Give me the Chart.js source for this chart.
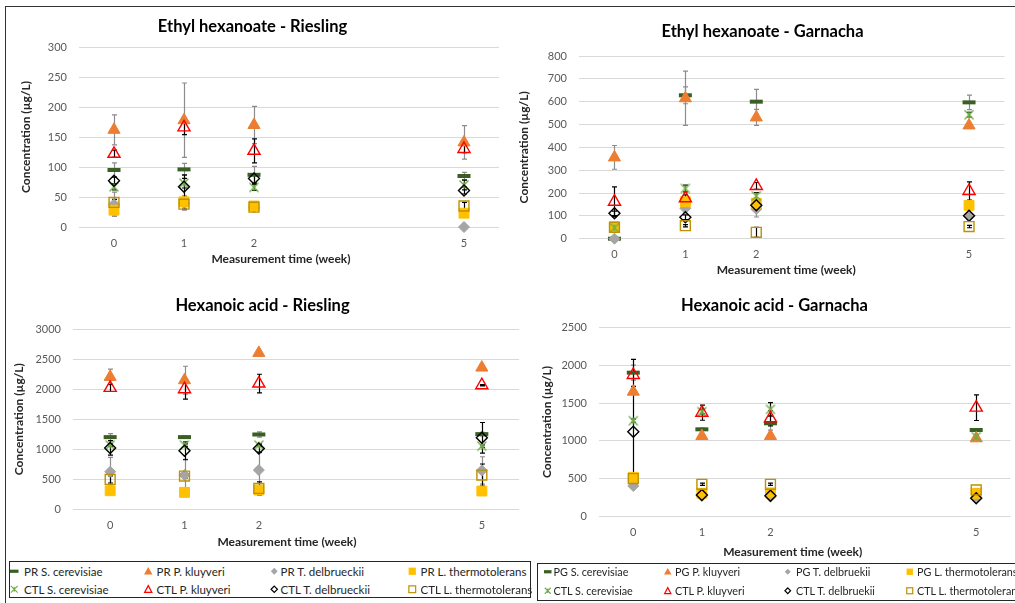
<!DOCTYPE html>
<html lang="en">
<head>
<meta charset="utf-8">
<title>Ethyl hexanoate and hexanoic acid during storage</title>
<script src="https://cdn.jsdelivr.net/npm/chart.js@4.4.1/dist/chart.umd.min.js"></script>
<style>
  html, body { margin: 0; padding: 0; background: #fff; }
  body { width: 1015px; height: 603px; overflow: hidden; position: relative; font-family: Lato, "Open Sans", sans-serif; }
  #frame { position: absolute; left: 5px; top: 6px; width: 1030px; height: 620px; border-top: 1px solid #333; border-left: 1px solid #333; }
  canvas { position: absolute; }
  .legend-box { position: absolute; border: 1px solid #262626; box-sizing: border-box; background: #fff; }
  .lg-mark { position: absolute; display: block; }
  .lg-text { position: absolute; white-space: nowrap; color: #262626; }
</style>
</head>
<body>
<div id="frame"></div>
<canvas id="ehRiesling"></canvas>
<canvas id="ehGarnacha"></canvas>
<canvas id="haRiesling"></canvas>
<canvas id="haGarnacha"></canvas>
<div class="legend-box" id="legendLeft"></div>
<div class="legend-box" id="legendRight"></div>

<script>
// Sampling times (weeks of storage) – also the x tick labels
const weeks = [0, 1, 2, 5];

// Series names, row order: PR/PG S. cerevisiae, P. kluyveri, T. delbrueckii, L. thermotolerans, then the CTL wines
const rieslingNames = ['PR S. cerevisiae', 'PR P. kluyveri', 'PR T. delbrueckii', 'PR L. thermotolerans',
                       'CTL S. cerevisiae', 'CTL P. kluyveri', 'CTL T. delbrueckii', 'CTL L. thermotolerans'];
const garnachaNames = ['PG S. cerevisiae', 'PG P. kluyveri', 'PG T. delbruekii', 'PG L. thermotolerans',
                       'CTL S. cerevisiae', 'CTL P. kluyveri', 'CTL T. delbruekii', 'CTL L. thermotolerans'];

// Ethyl hexanoate in Riesling (µg/L): means and standard deviations at weeks 0, 1, 2, 5
const ehRieslingMean = [
  [95, 96, 87, 85],
  [162, 178, 170, 141],
  [38, 40, 33, 0],
  [28, 42, 35, 23],
  [67, 73, 66, 70],
  [122, 166, 127, 130],
  [77, 67, 81, 61],
  [41, 38, 33, 35]
];
const ehRieslingSD = [
  [12, 10, 14, 6],
  [25, 62, 31, 28],
  [20, 12, 5, 0],
  [10, 8, 5, 4],
  [5, 8, 5, 8],
  [6, 12, 20, 6],
  [6, 20, 8, 6],
  [5, 8, 3, 6]
];

// Ethyl hexanoate in Garnacha (µg/L)
const ehGarnachaMean = [
  [0, 628, 600, 597],
  [356, 615, 531, 496],
  [0, 133, 130, 100],
  [53, 162, 155, 146],
  [48, 220, 187, 543],
  [162, 177, 231, 209],
  [111, 94, 146, 100],
  [50, 57, 28, 53]
];
const ehGarnachaSD = [
  [0, 37, 54, 32],
  [52, 119, 35, 4],
  [0, 10, 35, 5],
  [5, 10, 10, 10],
  [5, 15, 15, 10],
  [65, 15, 15, 40],
  [10, 10, 10, 5],
  [5, 5, 22, 5]
];

// Hexanoic acid in Riesling (µg/L)
const haRieslingMean = [
  [1200, 1200, 1244, 1250],
  [2205, 2150, 2606, 2361],
  [622, 567, 650, 644],
  [305, 278, 317, 300],
  [1067, 1067, 1067, 1050],
  [2022, 2000, 2094, 2067],
  [1020, 972, 1011, 1189],
  [494, 550, 344, 567]
];
const haRieslingSD = [
  [60, 20, 45, 30],
  [130, 233, 0, 10],
  [240, 260, 290, 228],
  [10, 10, 10, 10],
  [20, 20, 20, 20],
  [60, 167, 156, 10],
  [120, 150, 60, 255],
  [60, 30, 110, 184]
];

// Hexanoic acid in Garnacha (µg/L)
const haGarnachaMean = [
  [1904, 1153, 1233, 1144],
  [1652, 1064, 1064, 1034],
  [402, 270, 260, 240],
  [517, 305, 310, 305],
  [1267, 1387, 1418, 1055],
  [1873, 1373, 1299, 1440],
  [1121, 282, 273, 238],
  [500, 424, 424, 349]
];
const haGarnachaSD = [
  [100, 15, 90, 20],
  [0, 0, 0, 0],
  [10, 10, 10, 10],
  [10, 10, 10, 10],
  [20, 30, 88, 20],
  [208, 100, 100, 170],
  [600, 10, 10, 10],
  [10, 15, 15, 10]
];

// ---- marker styles (one per series row) ----
const markerKinds  = ['dash', 'triFill', 'diaFill', 'sqFill', 'star', 'triOpen', 'diaOpen', 'sqOpen'];
const markerColors = ['#3A5F24', '#ED7D31', '#A5A5A5', '#FFC000', '#70AD47', '#FF0000', '#000000', '#BF9000'];
const FONT = 'Lato, "Open Sans", sans-serif';
const TITLE_SIZE = 16.5, AXIS_SIZE = 12, TICK_SIZE = 11;

function starCanvas(color) {
  const c = document.createElement('canvas');
  c.width = 14; c.height = 14;
  const g = c.getContext('2d');
  g.strokeStyle = color; g.lineWidth = 1.4;
  g.beginPath();
  g.moveTo(2.5, 2.5); g.lineTo(11.5, 11.5);
  g.moveTo(11.5, 2.5); g.lineTo(2.5, 11.5);
  g.moveTo(7, 3.5); g.lineTo(7, 10.5);
  g.stroke();
  return c;
}

function pointLook(kind, color) {
  switch (kind) {
    case 'dash':    return { pointStyle: 'line', radius: 6.5, borderWidth: 4, borderColor: color, backgroundColor: color };
    case 'triFill': return { pointStyle: 'triangle', radius: 7, borderWidth: 1, borderColor: color, backgroundColor: color };
    case 'diaFill': return { pointStyle: 'rectRot', radius: 5.5, borderWidth: 1, borderColor: color, backgroundColor: color };
    case 'sqFill':  return { pointStyle: 'rect', radius: 7, borderWidth: 1, borderColor: color, backgroundColor: color };
    case 'star':    return { pointStyle: starCanvas(color), radius: 7, borderWidth: 0, borderColor: color, backgroundColor: color };
    case 'triOpen': return { pointStyle: 'triangle', radius: 7, borderWidth: 1.4, borderColor: color, backgroundColor: 'rgba(0,0,0,0)' };
    case 'diaOpen': return { pointStyle: 'rectRot', radius: 5.5, borderWidth: 1.4, borderColor: color, backgroundColor: 'rgba(0,0,0,0)' };
    case 'sqOpen':  return { pointStyle: 'rect', radius: 7, borderWidth: 1.4, borderColor: color, backgroundColor: 'rgba(0,0,0,0)' };
  }
}

// Vertical ± SD whiskers, drawn under the markers
const errorBars = {
  id: 'errorBars',
  beforeDatasetsDraw(chart) {
    const { ctx, scales: { x, y } } = chart;
    ctx.save();
    ctx.lineWidth = 1.2;
    chart.data.datasets.forEach(ds => {
      ctx.strokeStyle = ds.sdColor;
      ds.data.forEach((p, j) => {
        const e = ds.sd[j];
        if (!e) return;
        const px = Math.round(x.getPixelForValue(p.x)) + 0.5;
        const top = y.getPixelForValue(p.y + e);
        const bot = y.getPixelForValue(p.y - e);
        ctx.beginPath();
        ctx.moveTo(px, top); ctx.lineTo(px, bot);
        ctx.moveTo(px - 2.5, top); ctx.lineTo(px + 2.5, top);
        ctx.moveTo(px - 2.5, bot); ctx.lineTo(px + 2.5, bot);
        ctx.stroke();
      });
    });
    ctx.restore();
  }
};

// x-axis caption, set slightly left of the plot centre
const xCaption = {
  id: 'xCaption',
  afterDraw(chart, args, opts) {
    const { ctx, chartArea } = chart;
    ctx.save();
    ctx.font = `bold ${AXIS_SIZE}px ${FONT}`;
    ctx.fillStyle = '#262626';
    ctx.textAlign = 'center';
    ctx.textBaseline = 'middle';
    ctx.fillText(opts.text, (chartArea.left + chartArea.right) / 2 + opts.dx, opts.y);
    ctx.restore();
  }
};

function panel(id, p) {
  const [L, T, W, H] = p.box;
  const cv = document.getElementById(id);
  cv.width = W; cv.height = H;
  cv.style.left = L + 'px'; cv.style.top = T + 'px';

  const titleLH = TITLE_SIZE * 1.2, axisLH = AXIS_SIZE * 1.2, tickLH = TICK_SIZE * 1.2;
  const titleTop = p.titleY - T - titleLH / 2;
  const titleBottom = (p.area.top - T) - titleTop - titleLH;

  const datasets = p.mean.map((row, i) => Object.assign({
    label: p.names[i],
    data: weeks.map((w, j) => ({ x: w, y: row[j] })),
    sd: p.sd[i],
    sdColor: i < 4 ? '#8C8C8C' : '#000000',
    showLine: false,
    clip: false,
    order: 7 - i
  }, pointLook(markerKinds[i], markerColors[i])));

  return new Chart(cv, {
    type: 'scatter',
    data: { datasets },
    options: {
      responsive: false,
      animation: false,
      events: [],
      layout: { padding: { left: 0, top: 0, bottom: 0, right: L + W - p.area.right } },
      plugins: {
        legend: { display: false },
        tooltip: { enabled: false },
        title: {
          display: true, text: p.title, color: '#000',
          font: { family: FONT, size: TITLE_SIZE, weight: 'bold', lineHeight: 1.2 },
          padding: { top: titleTop, bottom: titleBottom }
        },
        xCaption: { text: 'Measurement time (week)', dx: p.capX - (p.area.left + p.area.right) / 2, y: p.capY - T }
      },
      scales: {
        x: {
          type: 'linear', min: -0.5, max: 5.5,
          afterBuildTicks: s => { s.ticks = weeks.map(v => ({ value: v })); },
          afterFit: s => { s.height = T + H - p.area.bottom; },
          grid: { display: false, drawTicks: false },
          border: { display: false },
          ticks: { padding: p.xTickY - p.area.bottom - tickLH / 2, color: '#595959', font: { family: FONT, size: TICK_SIZE },
                   callback: v => String(v) }
        },
        y: {
          min: 0, max: p.yMax,
          afterFit: s => { s.width = p.area.left - L; },
          grid: { color: '#D9D9D9', lineWidth: 1, drawTicks: false },
          border: { display: false },
          ticks: { stepSize: p.yStep, padding: p.area.left - p.yTickRight, color: '#595959', font: { family: FONT, size: TICK_SIZE },
                   callback: v => String(v) },
          title: {
            display: true, text: 'Concentration (µg/L)', color: '#262626',
            font: { family: FONT, size: AXIS_SIZE, weight: 'bold', lineHeight: 1.2 },
            padding: { top: p.yTitleX - L - axisLH / 2, bottom: 0 }
          }
        }
      }
    },
    plugins: [errorBars, xCaption]
  });
}

panel('ehRiesling', {
  title: 'Ethyl hexanoate - Riesling', names: rieslingNames, mean: ehRieslingMean, sd: ehRieslingSD,
  yMax: 300, yStep: 50,
  box: [6, 8, 510, 272], area: { left: 79, right: 499, top: 47, bottom: 227 },
  titleY: 26.5, yTitleX: 26, yTickRight: 67, xTickY: 243.3, capX: 281, capY: 259
});
panel('ehGarnacha', {
  title: 'Ethyl hexanoate - Garnacha', names: garnachaNames, mean: ehGarnachaMean, sd: ehGarnachaSD,
  yMax: 800, yStep: 100,
  box: [516, 8, 499, 282], area: { left: 579, right: 1009, top: 56, bottom: 238.7 },
  titleY: 31.7, yTitleX: 524, yTickRight: 567, xTickY: 254, capX: 788.5, capY: 270
});
panel('haRiesling', {
  title: 'Hexanoic acid - Riesling', names: rieslingNames, mean: haRieslingMean, sd: haRieslingSD,
  yMax: 3000, yStep: 500,
  box: [6, 282, 525, 276], area: { left: 73, right: 519, top: 329.3, bottom: 509 },
  titleY: 306, yTitleX: 18.7, yTickRight: 61, xTickY: 525.7, capX: 287, capY: 542.3
});
panel('haGarnacha', {
  title: 'Hexanoic acid - Garnacha', names: garnachaNames, mean: haGarnachaMean, sd: haGarnachaSD,
  yMax: 2500, yStep: 500,
  box: [531, 282, 490, 280], area: { left: 599, right: 1018, top: 327.7, bottom: 516.3 },
  titleY: 305.5, yTitleX: 546.7, yTickRight: 587, xTickY: 532.3, capX: 796.5, capY: 551.7
});

// ---- HTML legends (4 columns x 2 rows) ----
function svgMarker(kind, color, s) {
  const h = s / 2, box = s + 4;
  let body = '';
  switch (kind) {
    case 'dash':    body = `<rect x="${-h}" y="-1.6" width="${s}" height="3.2" fill="${color}"/>`; break;
    case 'triFill': body = `<polygon points="0,${-h} ${h},${h * 0.75} ${-h},${h * 0.75}" fill="${color}"/>`; break;
    case 'diaFill': body = `<polygon points="0,${-h * 0.8} ${h * 0.8},0 0,${h * 0.8} ${-h * 0.8},0" fill="${color}"/>`; break;
    case 'sqFill':  body = `<rect x="${-h * 0.85}" y="${-h * 0.85}" width="${s * 0.85}" height="${s * 0.85}" fill="${color}"/>`; break;
    case 'star':    body = `<path d="M${-h * 0.8},${-h * 0.8}L${h * 0.8},${h * 0.8}M${h * 0.8},${-h * 0.8}L${-h * 0.8},${h * 0.8}M0,${-h * 0.6}L0,${h * 0.6}" stroke="${color}" stroke-width="1.1" fill="none"/>`; break;
    case 'triOpen': body = `<polygon points="0,${-h + 0.6} ${h - 0.6},${h * 0.75} ${-h + 0.6},${h * 0.75}" stroke="${color}" stroke-width="1.2" fill="none"/>`; break;
    case 'diaOpen': body = `<polygon points="0,${-h * 0.75} ${h * 0.75},0 0,${h * 0.75} ${-h * 0.75},0" stroke="${color}" stroke-width="1.2" fill="none"/>`; break;
    case 'sqOpen':  body = `<rect x="${-h * 0.8}" y="${-h * 0.8}" width="${s * 0.8}" height="${s * 0.8}" stroke="${color}" stroke-width="1.2" fill="none"/>`; break;
  }
  return { html: `<svg class="lg-mark" width="${box}" height="${box}" viewBox="${-box / 2} ${-box / 2} ${box} ${box}">${body}</svg>`, box };
}

function legend(el, o) {
  const box = document.getElementById(el);
  box.style.left = o.box[0] + 'px'; box.style.top = o.box[1] + 'px';
  box.style.width = o.box[2] + 'px'; box.style.height = o.box[3] + 'px';
  let html = '';
  o.names.forEach((name, i) => {
    const col = i % 4, row = Math.floor(i / 4);
    const cy = o.rows[row] - o.box[1];
    const m = svgMarker(markerKinds[i], markerColors[i], o.markSize);
    html += m.html.replace('class="lg-mark"', `class="lg-mark" style="left:${o.markX[col] - o.box[0] - m.box / 2}px;top:${cy - m.box / 2}px"`);
    const lh = Math.round(o.fontSize * 1.3);
    html += `<span class="lg-text" style="left:${o.textX[col] - o.box[0]}px;top:${cy - lh / 2}px;font-size:${o.fontSize}px;line-height:${lh}px">${name}</span>`;
  });
  box.innerHTML = html;
}

legend('legendLeft', {
  names: rieslingNames, box: [9, 561, 522, 37], rows: [570.5, 588.5],
  markX: [13.5, 147, 273, 411], textX: [23, 155.5, 279.5, 419.5], markSize: 8.5, fontSize: 11.5
});
legend('legendRight', {
  names: garnachaNames, box: [537, 563, 490, 38], rows: [571, 590],
  markX: [547, 666.5, 787, 909], textX: [552.5, 674, 795, 916], markSize: 7.5, fontSize: 10.8
});
</script>
</body>
</html>
